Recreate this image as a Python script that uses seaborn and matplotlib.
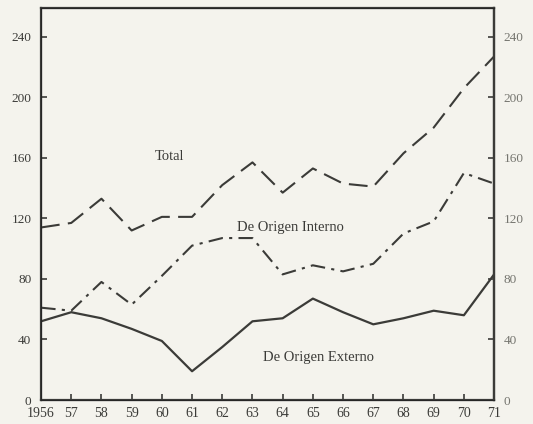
import numpy as np
import pandas as pd
import matplotlib
matplotlib.use("Agg")
import matplotlib.pyplot as plt
import seaborn as sns

# datos (1956-1971)
years = list(range(1956, 1972))
total = [114, 117, 133, 112, 121, 121, 142, 157, 137, 153, 143, 141, 163, 180, 206, 227]
interno = [61, 59, 78, 63, 82, 102, 107, 107, 83, 89, 85, 90, 110, 118, 150, 143]
externo = [52, 58, 54, 47, 39, 19, 35, 52, 54, 67, 58, 50, 54, 59, 56, 83]

x_labels = ["1956", "57", "58", "59", "60", "61", "62", "63",
            "64", "65", "66", "67", "68", "69", "70", "71"]
y_ticks = [0, 40, 80, 120, 160, 200, 240]

sns.set_style("ticks")
plt.rcParams["font.family"] = ["Liberation Serif", "DejaVu Serif"]

ink = "#3b3b38"
paper = "#f4f3ed"

df = pd.DataFrame({"anio": years, "Total": total,
                   "Interno": interno, "Externo": externo})

fig = plt.figure(figsize=(5.33, 4.24), dpi=100, facecolor=paper)
ax = fig.add_axes([0.077, 0.0566, 0.85, 0.9245])
ax.set_facecolor(paper)

sns.lineplot(data=df, x="anio", y="Total", ax=ax, color=ink, lw=1.5)
sns.lineplot(data=df, x="anio", y="Interno", ax=ax, color=ink, lw=1.5)
sns.lineplot(data=df, x="anio", y="Externo", ax=ax, color=ink, lw=1.6)
lines = ax.get_lines()
lines[0].set_dashes([9, 4])
lines[1].set_dashes([7, 3, 1.5, 3])

ax.set_xlim(1956, 1971)
ax.set_ylim(0, 259)
ax.set_xticks(years)
ax.set_xticklabels(x_labels)
ax.set_yticks(y_ticks)
ax.set_xlabel("")
ax.set_ylabel("")

for s in ax.spines.values():
    s.set_color(ink)
    s.set_linewidth(1.6)

ax.tick_params(axis="x", direction="in", length=4, width=1.2, colors=ink,
               labelsize=10, pad=5)
ax.tick_params(axis="y", direction="in", length=4, width=1.2, colors=ink,
               labelsize=9.5, pad=7)

ax2 = ax.twinx()
ax2.set_ylim(0, 259)
ax2.set_yticks(y_ticks)
ax2.tick_params(axis="y", direction="in", length=4, width=1.2, colors=ink,
                labelsize=9.5, pad=7)
ax2.spines["right"].set_color(ink)
ax2.spines["right"].set_linewidth(1.6)
for lab in ax2.get_yticklabels():
    lab.set_color("#75756f")

ax.text(1960.25, 161, "Total", fontsize=10.5, color=ink, ha="center", va="center")
ax.text(1964.25, 114, "De Origen Interno", fontsize=10.5, color=ink, ha="center", va="center")
ax.text(1965.2, 28, "De Origen Externo", fontsize=10.5, color=ink, ha="center", va="center")

fig.savefig("out.png", dpi=100, facecolor=paper)
plt.close(fig)
